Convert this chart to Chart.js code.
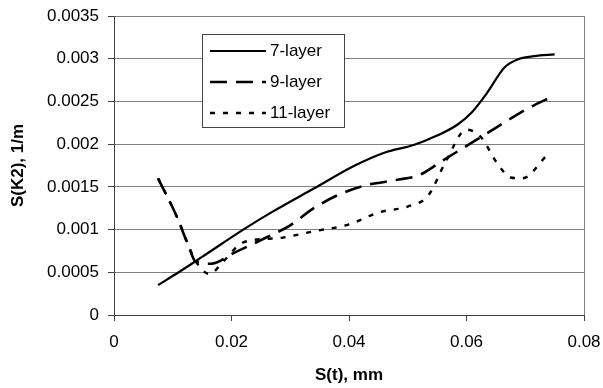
<!DOCTYPE html>
<html>
<head>
<meta charset="utf-8">
<script src="https://cdn.jsdelivr.net/npm/chart.js@4/dist/chart.umd.min.js"></script>
<style>
  html, body { margin: 0; padding: 0; background: #fff; }
  #wrap { width: 603px; height: 388px; }
</style>
</head>
<body>
<div id="wrap"><canvas id="c" width="603" height="388"></canvas></div>
<script>
const seriesNames = ['7-layer', '9-layer', '11-layer'];

const x7 = [0.0075, 0.011, 0.015, 0.022, 0.027, 0.034, 0.041, 0.046, 0.051, 0.055, 0.0585, 0.061, 0.0635, 0.0665, 0.069, 0.0715, 0.075];
const y7 = [0.00035, 0.0005, 0.00068, 0.001, 0.00121, 0.00148, 0.00175, 0.0019, 0.00199, 0.0021, 0.00223, 0.00238, 0.0026, 0.0029, 0.003, 0.00303, 0.00305];

const x9 = [0.0075, 0.0107, 0.013, 0.0138, 0.0165, 0.0205, 0.026, 0.03, 0.034, 0.038, 0.043, 0.048, 0.052, 0.056, 0.0605, 0.0645, 0.0705, 0.075];
const y9 = [0.0016, 0.00115, 0.00075, 0.00063, 0.0006, 0.00073, 0.00091, 0.00105, 0.00125, 0.0014, 0.00152, 0.00158, 0.00164, 0.00181, 0.002, 0.00217, 0.00242, 0.00257];

const x11 = [0.0075, 0.0107, 0.013, 0.0138, 0.0163, 0.0185, 0.022, 0.028, 0.034, 0.04, 0.045, 0.05, 0.0535, 0.0565, 0.06, 0.0625, 0.065, 0.0675, 0.0695, 0.0737];
const y11 = [0.0016, 0.00115, 0.00076, 0.00064, 0.00048, 0.00062, 0.00085, 0.0009, 0.00098, 0.00106, 0.0012, 0.00127, 0.0014, 0.0018, 0.00217, 0.00208, 0.0018, 0.00161, 0.0016, 0.00187];

const yTickLabels = ['0', '0.0005', '0.001', '0.0015', '0.002', '0.0025', '0.003', '0.0035'];
const xTickLabels = ['0', '0.02', '0.04', '0.06', '0.08'];

const pts = (xs, ys) => xs.map((x, i) => ({ x, y: ys[i] }));
const FONT = '"Liberation Sans", Arial, sans-serif';

// plot frame (right edge) + legend box inside the plot
const framePlugin = {
  id: 'frame',
  afterDatasetsDraw(chart) {
    const { ctx, chartArea: a } = chart;
    ctx.save();
    ctx.strokeStyle = '#808080';
    ctx.lineWidth = 1;
    ctx.beginPath();
    ctx.moveTo(a.right + 0.5, a.top);
    ctx.lineTo(a.right + 0.5, a.bottom);
    ctx.stroke();

    // legend
    const bx = 202, by = 34, bw = 142, bh = 93;
    ctx.fillStyle = '#fff';
    ctx.fillRect(bx, by, bw, bh);
    ctx.strokeStyle = '#444';
    ctx.strokeRect(bx + 0.5, by + 0.5, bw, bh);
    ctx.font = '17px ' + FONT;
    ctx.textBaseline = 'middle';
    chart.data.datasets.forEach((ds, i) => {
      const ly = 51 + i * 31;
      ctx.strokeStyle = '#000';
      ctx.lineWidth = ds.borderWidth;
      ctx.setLineDash(ds.borderDash || []);
      ctx.beginPath();
      ctx.moveTo(210, ly);
      ctx.lineTo(266, ly);
      ctx.stroke();
      ctx.setLineDash([]);
      ctx.fillStyle = '#000';
      ctx.fillText(ds.label, 270, ly);
    });
    ctx.restore();
  }
};

new Chart(document.getElementById('c'), {
  type: 'scatter',
  data: {
    datasets: [
      { label: seriesNames[0], data: pts(x7, y7), borderColor: '#000', borderWidth: 2.2, showLine: true, pointRadius: 0, cubicInterpolationMode: 'monotone' },
      { label: seriesNames[1], data: pts(x9, y9), borderColor: '#000', borderWidth: 2.6, borderDash: [17, 9], showLine: true, pointRadius: 0, cubicInterpolationMode: 'monotone' },
      { label: seriesNames[2], data: pts(x11, y11), borderColor: '#000', borderWidth: 2.4, borderDash: [5, 8], showLine: true, pointRadius: 0, cubicInterpolationMode: 'monotone' }
    ]
  },
  options: {
    responsive: false,
    animation: false,
    layout: { padding: { left: 0, top: 16, right: 19, bottom: 0 } },
    plugins: { legend: { display: false }, tooltip: { enabled: false } },
    scales: {
      x: {
        type: 'linear', min: 0, max: 0.08,
        afterFit: s => { s.height = 73; s.paddingLeft = 0; s.paddingRight = 0; },
        afterBuildTicks: s => { s.ticks = xTickLabels.map((t, i) => ({ value: i * 0.02 })); },
        ticks: { color: '#000', font: { size: 17, family: FONT }, padding: 11,
                 callback: (v, i) => xTickLabels[i] },
        grid: { drawOnChartArea: false, color: '#404040', tickLength: 6 },
        border: { color: '#404040', width: 1 },
        title: { display: true, text: 'S(t), mm', color: '#000', padding: { top: 0, bottom: 2 },
                 font: { size: 17, weight: 'bold', family: FONT } }
      },
      y: {
        type: 'linear', min: 0, max: 0.0035,
        afterFit: s => { s.width = 114; s.paddingTop = 0; s.paddingBottom = 0; },
        afterBuildTicks: s => { s.ticks = yTickLabels.map((t, i) => ({ value: i * 0.0005 })); },
        ticks: { color: '#000', font: { size: 17, family: FONT }, padding: 9,
                 callback: (v, i) => yTickLabels[i] },
        grid: { color: '#808080', tickLength: 6, tickColor: '#404040' },
        border: { color: '#404040', width: 1 },
        title: { display: true, text: 'S(K2), 1/m', color: '#000', padding: { top: 8, bottom: 0 },
                 font: { size: 17, weight: 'bold', family: FONT } }
      }
    }
  },
  plugins: [framePlugin]
});
</script>
</body>
</html>
